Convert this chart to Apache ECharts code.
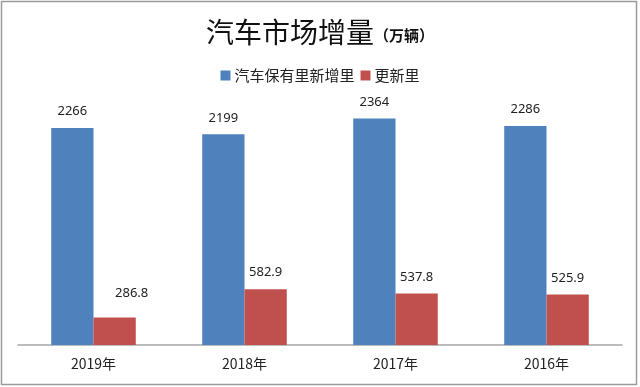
<!DOCTYPE html>
<html>
<head>
<meta charset="utf-8">
<script src="https://cdn.jsdelivr.net/npm/echarts@6/dist/echarts.min.js"></script>
<style>html,body{margin:0;padding:0;background:#fff}#c{width:640px;height:387px}</style>
</head>
<body>
<div id="c"></div>
<script>
const categories = ['2019年', '2018年', '2017年', '2016年'];
const seriesNames = ['汽车保有里新增里', '更新里'];
const stockIncrease = [2266, 2199, 2364, 2286];
const renewal = [286.8, 582.9, 537.8, 525.9];

const chart = echarts.init(document.getElementById('c'));
const labelStyle = {
  show: true, position: 'top', distance: 10,
  fontFamily: 'Noto Sans, sans-serif', fontSize: 13, color: '#222'
};
chart.setOption({
  animation: false,
  backgroundColor: '#fff',
  graphic: [{
    type: 'rect', shape: { x: 1.5, y: 1.5, width: 635, height: 383 },
    style: { fill: 'none', stroke: '#9a9a9a', lineWidth: 1.5 }, silent: true
  }],
  title: {
    text: '{a|汽车市场增量}{b|（万辆）}',
    left: 'center', top: 13,
    textStyle: {
      rich: {
        a: { fontFamily: 'Noto Sans CJK SC', fontSize: 28, fontWeight: 'normal', color: '#111', verticalAlign: 'bottom' },
        b: { fontFamily: 'Noto Sans CJK SC', fontSize: 15, fontWeight: 'bold', color: '#111', verticalAlign: 'bottom', padding: [0, 0, 3, 0] }
      }
    }
  },
  legend: {
    data: seriesNames, left: 'center', top: 63,
    itemWidth: 10, itemHeight: 10, itemGap: 6, icon: 'rect',
    textStyle: { fontFamily: 'Noto Sans CJK SC', fontSize: 15, color: '#222', padding: [0, 0, 0, -1] }
  },
  grid: { left: 18, right: 18, top: 105.5, bottom: 42, containLabel: false },
  xAxis: {
    type: 'category', data: categories,
    axisLine: { lineStyle: { color: '#a6a6a6', width: 1.5 } },
    axisTick: { show: false },
    axisLabel: { fontFamily: 'Noto Sans CJK SC', fontSize: 14, color: '#222', margin: 12 }
  },
  yAxis: { type: 'value', min: 0, max: 2500, show: false, splitLine: { show: false } },
  series: [
    { name: seriesNames[0], type: 'bar', data: stockIncrease, barGap: '0%', barCategoryGap: '44%',
      itemStyle: { color: '#4f81bd' }, label: labelStyle },
    { name: seriesNames[1], type: 'bar',
      data: renewal.map((v, i) => i === 0
        ? { value: v, label: Object.assign({}, labelStyle, { offset: [17, -8] }) }
        : v),
      itemStyle: { color: '#c0504d' }, label: labelStyle }
  ]
});
</script>
</body>
</html>
